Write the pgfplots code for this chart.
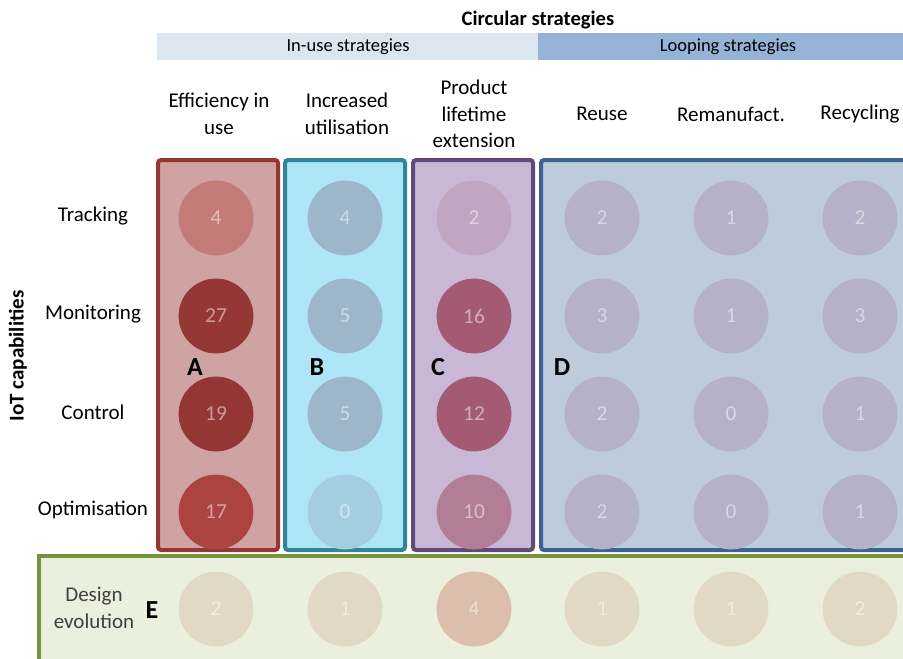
\documentclass[border=0pt]{standalone}
\usepackage{pgfplots}
\pgfplotsset{compat=1.18}
\usepackage{fontspec}
\setmainfont{Carlito}

% box fills and borders
\definecolor{fillA}{RGB}{207,163,162}
\definecolor{lineA}{RGB}{150,55,52}
\definecolor{fillB}{RGB}{174,230,248}
\definecolor{lineB}{RGB}{49,133,155}
\definecolor{fillC}{RGB}{200,184,214}
\definecolor{lineC}{RGB}{96,74,122}
\definecolor{fillD}{RGB}{190,203,219}
\definecolor{lineD}{RGB}{60,98,145}
\definecolor{fillE}{RGB}{235,240,222}
\definecolor{lineE}{RGB}{119,147,60}
\definecolor{bandIn}{RGB}{220,230,241}
\definecolor{bandLoop}{RGB}{149,179,215}
% circles
\definecolor{ca1}{RGB}{196,123,120}
\definecolor{ca2}{RGB}{149,55,52}
\definecolor{ca3}{RGB}{148,54,52}
\definecolor{ca4}{RGB}{172,68,66}
\definecolor{cb1}{RGB}{157,182,201}
\definecolor{cb2}{RGB}{165,205,224}
\definecolor{cc1}{RGB}{192,166,193}
\definecolor{cc2}{RGB}{163,90,114}
\definecolor{cc3}{RGB}{178,125,151}
\definecolor{cd}{RGB}{181,177,198}
\definecolor{ce1}{RGB}{226,216,198}
\definecolor{ce2}{RGB}{219,190,172}
\definecolor{lbl}{RGB}{64,64,64}

\newcommand{\lab}{\fontsize{10.5}{13.25}\selectfont}

\pgfplotsset{
	bubble/.style = {
		color = #1,
		only marks,
		mark = *,
		mark size = 18.5pt,
		mark options = {draw=#1, fill=#1},
		point meta = explicit symbolic,
		nodes near coords,
		every node near coord/.style = {anchor=center, text=white, text opacity=0.5,
			font=\fontsize{10.7}{12}\selectfont},
	},
}

\begin{document}
\begin{tikzpicture}
	\begin{axis}[
			name         = ax,
			scale only axis,
			width        = 451.5pt,
			height       = 329pt,
			xmin         = 0,
			xmax         = 903,
			ymin         = 0,
			ymax         = 658,
			y dir        = reverse,
			hide axis,
			clip         = true,
		]

		% header bands
		\addplot [fill=bandIn, draw=none] coordinates {(157,33) (538,33) (538,60) (157,60)} --cycle;
		\addplot [fill=bandLoop, draw=none] coordinates {(538,33) (910,33) (910,60) (538,60)} --cycle;

		% strategy boxes
		\addplot [fill=fillE, draw=lineE, line width=2pt] coordinates {(39,556) (920,556) (920,680) (39,680)} --cycle;
		\addplot [fill=fillA, draw=lineA, line width=2pt, rounded corners=1.5pt] coordinates {(158,160) (278,160) (278,550) (158,550)} --cycle;
		\addplot [fill=fillB, draw=lineB, line width=2pt, rounded corners=1.5pt] coordinates {(285,160) (405,160) (405,550) (285,550)} --cycle;
		\addplot [fill=fillC, draw=lineC, line width=2pt, rounded corners=1.5pt] coordinates {(413,160) (533,160) (533,550) (413,550)} --cycle;
		\addplot [fill=fillD, draw=lineD, line width=2pt, rounded corners=1.5pt] coordinates {(541,160) (920,160) (920,550) (541,550)} --cycle;

		% circles with counts (x, y in pixels; meta = count)
		\addplot [bubble=ca1] coordinates {(216,218) [4]};
		\addplot [bubble=ca2] coordinates {(216,316) [27]};
		\addplot [bubble=ca3] coordinates {(216,414) [19]};
		\addplot [bubble=ca4] coordinates {(216,512) [17]};
		\addplot [bubble=cb1] coordinates {(345,218) [4] (345,316) [5] (345,414) [5]};
		\addplot [bubble=cb2] coordinates {(345,512) [0]};
		\addplot [bubble=cc1] coordinates {(474,218) [2]};
		\addplot [bubble=cc2] coordinates {(474,316) [16] (474,414) [12]};
		\addplot [bubble=cc3] coordinates {(474,512) [10]};
		\addplot [bubble=cd] coordinates {
			(602,218) [2] (602,316) [3] (602,414) [2] (602,512) [2]
			(731,218) [1] (731,316) [1] (731,414) [0] (731,512) [0]
			(860,218) [2] (860,316) [3] (860,414) [1] (860,512) [1]
		};
		\addplot [bubble=ce1] coordinates {(216,609) [2] (345,609) [1] (602,609) [1] (731,609) [1] (860,609) [2]};
		\addplot [bubble=ce2] coordinates {(474,609) [4]};

		% titles
		\node [font=\bfseries\fontsize{10.3}{12}\selectfont] at (538,20) {Circular strategies};
		\node [font=\fontsize{9.25}{11}\selectfont] at (348,47) {In-use strategies};
		\node [font=\fontsize{9.25}{11}\selectfont] at (728,47) {Looping strategies};

		% column labels
		\node [font=\lab, align=center] at (219,114) {Efficiency in\\use};
		\node [font=\lab, align=center] at (347,114) {Increased\\utilisation};
		\node [font=\lab, align=center] at (474,114) {Product\\lifetime\\extension};
		\node [font=\lab] at (602,114) {Reuse};
		\node [font=\lab] at (731,114) {Remanufact.};
		\node [font=\lab] at (860,114) {Recycling};

		% row labels
		\node [font=\lab] at (93,216) {Tracking};
		\node [font=\lab] at (93,314) {Monitoring};
		\node [font=\lab] at (93,412) {Control};
		\node [font=\lab] at (93,510) {Optimisation};
		\node [font=\lab, align=center, text=lbl] at (94,608) {Design\\evolution};
		\node [font=\bfseries\fontsize{10.5}{12}\selectfont, rotate=90] at (18,356) {IoT capabilities};

		% box letters
		\node [font=\bfseries\fontsize{13}{14}\selectfont] at (195,367) {A};
		\node [font=\bfseries\fontsize{13}{14}\selectfont] at (317,367) {B};
		\node [font=\bfseries\fontsize{13}{14}\selectfont] at (438,367) {C};
		\node [font=\bfseries\fontsize{13}{14}\selectfont] at (562,367) {D};
		\node [font=\bfseries\fontsize{13}{14}\selectfont] at (152,610) {E};
	\end{axis}
	\pgfresetboundingbox
	\useasboundingbox (ax.south west) rectangle (ax.north east);
\end{tikzpicture}
\end{document}
